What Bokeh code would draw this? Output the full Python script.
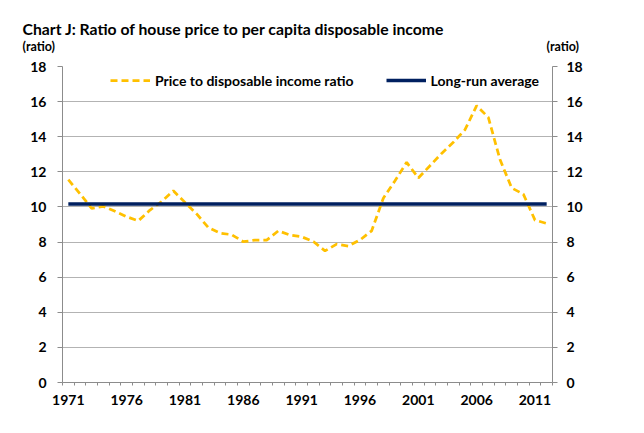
from bokeh.plotting import figure
from bokeh.layouts import column
from bokeh.models import LinearAxis, FixedTicker, Range1d, Legend, LegendItem, Grid
from bokeh.core.properties import value
from bokeh.embed import file_html
from bokeh.resources import INLINE

years = list(range(1971, 2013))
ratio = [11.55, 10.75, 9.92, 10.03, 9.75, 9.44, 9.21, 9.82, 10.31, 10.92,
         10.26, 9.60, 8.83, 8.51, 8.42, 8.02, 8.11, 8.11, 8.64, 8.40,
         8.30, 8.03, 7.50, 7.88, 7.77, 8.12, 8.64, 10.50, 11.49, 12.54,
         11.65, 12.35, 13.05, 13.68, 14.40, 15.77, 15.10, 12.70, 11.08, 10.73,
         9.25, 9.06]
long_run_average = 10.17
x_tick_years = [1971, 1976, 1981, 1986, 1991, 1996, 2001, 2006, 2011]
y_ticks = [0, 2, 4, 6, 8, 10, 12, 14, 16, 18]
title_text = "Chart J:  Ratio of house price to per capita disposable income"
unit_text = "(ratio)"
series_names = ["Price to disposable income ratio", "Long-run average"]

FONT = "Lato"
GOLD = "#FFC000"
NAVY = "#002060"
AXIS_GREY = "#8c8c8c"
GRID_GREY = "#b3b3b3"
W = 620

# ---- header (title and unit labels) ----
HDR_H = 54
hdr = figure(width=W, height=HDR_H, output_backend="svg", toolbar_location=None,
             x_range=Range1d(0, W), y_range=Range1d(HDR_H, 0),
             x_axis_type=None, y_axis_type=None, min_border=0)
hdr.frame_align = False
hdr.outline_line_color = None
hdr.xgrid.visible = False
hdr.ygrid.visible = False
hdr.text(x=[22], y=[28], text=[title_text], text_font=value(FONT),
         text_font_style="bold", text_font_size="15.75px", text_color="black",
         text_baseline="middle", text_align="left")
hdr.text(x=[22, 546], y=[46, 46], text=[unit_text, unit_text],
         text_font=value(FONT), text_font_style="bold", text_font_size="12.5px",
         text_color="black", text_baseline="middle", text_align="left")

# ---- main chart ----
p = figure(width=W, height=368, output_backend="svg", toolbar_location=None,
           x_range=Range1d(years[0] - 0.5, years[-1] + 0.5),
           y_range=Range1d(0, 18), x_axis_type=None, y_axis_type=None)
p.frame_align = False
p.min_border_left = 62
p.min_border_right = 68
p.min_border_top = 12
p.min_border_bottom = 40
p.outline_line_color = None

def style_axis(ax):
    ax.axis_line_color = AXIS_GREY
    ax.axis_line_width = 1
    ax.major_tick_line_color = AXIS_GREY
    ax.minor_tick_line_color = AXIS_GREY
    ax.major_label_text_font = FONT
    ax.major_label_text_font_style = "bold"
    ax.major_label_text_font_size = "14px"
    ax.major_label_text_color = "black"

yl = LinearAxis(ticker=FixedTicker(ticks=y_ticks))
style_axis(yl)
yl.major_tick_out = 5
yl.major_tick_in = 0
yl.minor_tick_out = 0
yl.major_label_standoff = 11
p.add_layout(yl, "left")

yr = LinearAxis(ticker=FixedTicker(ticks=y_ticks))
style_axis(yr)
yr.major_tick_out = 5
yr.major_tick_in = 0
yr.minor_tick_out = 0
yr.major_label_standoff = 9
p.add_layout(yr, "right")

boundaries = [y - 0.5 for y in years] + [years[-1] + 0.5]
xb = LinearAxis(ticker=FixedTicker(ticks=x_tick_years, minor_ticks=boundaries))
style_axis(xb)
xb.major_tick_out = 0
xb.major_tick_in = 0
xb.minor_tick_out = 3
xb.minor_tick_in = 0
xb.major_label_standoff = 9
p.add_layout(xb, "below")

p.xgrid.visible = False
p.ygrid.visible = False
g = Grid(dimension=1, ticker=FixedTicker(ticks=y_ticks[1:]),
         grid_line_color=GRID_GREY, grid_line_width=1)
p.add_layout(g)

r1 = p.line(years, ratio, line_color=GOLD, line_width=2.75, line_dash="7 4")
r2 = p.line(years, [long_run_average] * len(years), line_color=NAVY, line_width=3.5)

legend = Legend(items=[LegendItem(label=series_names[0], renderers=[r1]),
                       LegendItem(label=series_names[1], renderers=[r2])],
                orientation="horizontal", location=(48, 292),
                border_line_color=None, background_fill_alpha=0,
                padding=0, margin=0, spacing=32, label_standoff=5,
                glyph_width=40, glyph_height=20,
                label_text_font=FONT, label_text_font_style="bold",
                label_text_font_size="14px", label_text_color="black")
p.add_layout(legend, "center")

layout = column(hdr, p, spacing=0)
open("out.html", "w").write(file_html(layout, INLINE))
